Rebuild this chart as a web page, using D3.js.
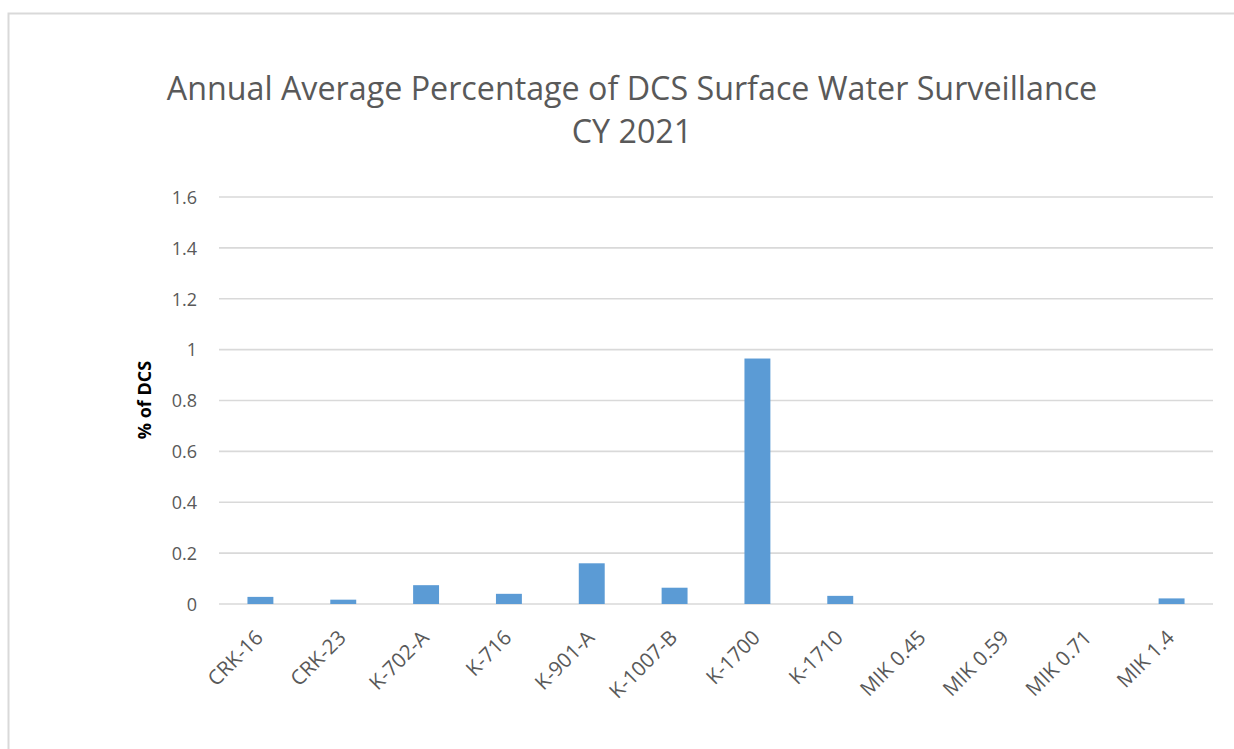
<!DOCTYPE html>
<html><head><meta charset="utf-8">
<script src="https://cdn.jsdelivr.net/npm/d3@7"></script>
<style>body{margin:0;background:#fff;overflow:hidden}svg{display:block}</style>
</head><body>
<svg id="c" width="1234" height="749"></svg>
<script>
const categories = ["CRK-16","CRK-23","K-702-A","K-716","K-901-A","K-1007-B","K-1700","K-1710","MIK 0.45","MIK 0.59","MIK 0.71","MIK 1.4"];
const values = [0.028,0.017,0.074,0.040,0.160,0.064,0.965,0.032,0,0,0,0.022];
const yTicks = [0,0.2,0.4,0.6,0.8,1,1.2,1.4,1.6];
const titleLines = ["Annual Average Percentage of DCS Surface Water Surveillance","CY 2021"];
const yTitle = "% of DCS";

const svg = d3.select("#c");
const font = "'Open Sans', sans-serif";
svg.append("rect").attr("x",8.5).attr("y",13.5).attr("width",1240).attr("height",760)
  .attr("fill","#fff").attr("stroke","#d9d9d9").attr("stroke-width",2);

const L=219, R=1213, T=197, B=604;
const x = d3.scaleBand().domain(categories).range([L,R]).paddingInner(0.687).paddingOuter(0.3435);
const y = d3.scaleLinear().domain([0,1.6]).range([B,T]);

// gridlines
svg.append("g").selectAll("line").data(yTicks).join("line")
  .attr("x1",L).attr("x2",R).attr("y1",d=>y(d)).attr("y2",d=>y(d))
  .attr("stroke","#d9d9d9").attr("stroke-width",1.6);

// y axis labels
const yAxis = d3.axisLeft(y).tickValues(yTicks).tickSize(0).tickPadding(0).tickFormat(d3.format("~g"));
const ya = svg.append("g").attr("transform",`translate(197,0)`).call(yAxis);
ya.select(".domain").remove();
ya.selectAll("text").attr("font-family",font).attr("font-size",18).attr("fill","#595959").attr("dy","0.35em");

// bars
svg.append("g").selectAll("rect").data(values).join("rect")
  .attr("x",(d,i)=>x(categories[i])).attr("width",x.bandwidth())
  .attr("y",d=>y(d)).attr("height",d=>B-y(d)).attr("fill","#5b9bd5");

// x axis labels
const xAxis = d3.axisBottom(x).tickSize(0).tickPadding(0);
const xa = svg.append("g").attr("transform",`translate(0,${B})`).call(xAxis);
xa.select(".domain").remove();
xa.selectAll("text").attr("font-family",font).attr("font-size",20.5).attr("fill","#595959")
  .attr("text-anchor","end").attr("dy",null).attr("y",null)
  .attr("transform","translate(4,35) rotate(-45)");

// y title
svg.append("text").attr("transform","translate(151,400) rotate(-90)").attr("text-anchor","middle")
  .attr("font-family",font).attr("font-size",18).attr("font-weight","bold").attr("fill","#000").text(yTitle);

// title
const t1 = svg.append("text").attr("x",632).attr("y",100).attr("text-anchor","middle")
  .attr("font-family",font).attr("font-size",29).attr("fill","#595959").text(titleLines[0]);
const w = t1.node().getComputedTextLength();
const fs = 29*931/w;
t1.attr("font-size",fs);
svg.append("text").attr("x",632).attr("y",143).attr("text-anchor","middle")
  .attr("font-family",font).attr("font-size",fs).attr("fill","#595959").text(titleLines[1]);
</script>
</body></html>
